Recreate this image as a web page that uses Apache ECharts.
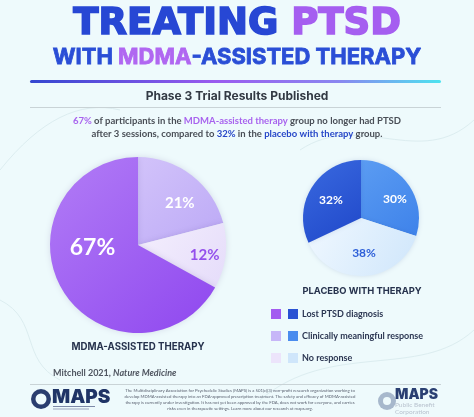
<!DOCTYPE html>
<html><head><meta charset="utf-8">
<script src="https://cdn.jsdelivr.net/npm/echarts@6/dist/echarts.min.js"></script>
<style>html,body{margin:0;padding:0;background:#eefafc;}#c{width:474px;height:417px;}</style>
</head><body><div id="c"></div>
<script>
// ---- data ----
const categories = ['Clinically meaningful response', 'No response', 'Lost PTSD diagnosis'];
const mdmaValues = [21, 12, 67];
const placeboCategories = ['Clinically meaningful response', 'No response', 'Lost PTSD diagnosis'];
const placeboValues = [30, 38, 32];
const legendOrder = ['Lost PTSD diagnosis', 'Clinically meaningful response', 'No response'];
const groupLabels = ['MDMA-ASSISTED THERAPY', 'PLACEBO WITH THERAPY'];

// ---- styles ----
const lg = (a, b) => ({type:'linear', x:0, y:0, x2:1, y2:1, colorStops:[{offset:0,color:a},{offset:1,color:b}]});
const mdmaColors = {
  'Lost PTSD diagnosis': lg('#b27df6', '#8f47ef'),
  'Clinically meaningful response': lg('#d2c3fa', '#bca9f6'),
  'No response': lg('#f4effd', '#e5dcfa')
};
const placeboColors = {
  'Lost PTSD diagnosis': lg('#3a6ae0', '#1f47c9'),
  'Clinically meaningful response': lg('#5b9cf2', '#3e82ea'),
  'No response': lg('#f0f8ff', '#cfe6fb')
};
const mdmaLabel = {
  'Lost PTSD diagnosis': {color:'#fff', fontSize:23, offset:[-5,-21]},
  'Clinically meaningful response': {color:'#fff', fontSize:15, offset:[13,-5]},
  'No response': {color:'#9450ec', fontSize:15, offset:[20,4]}
};
const placeboLabel = {
  'Lost PTSD diagnosis': {color:'#fff', fontSize:12, offset:[-3,-1]},
  'Clinically meaningful response': {color:'#fff', fontSize:12, offset:[8,0]},
  'No response': {color:'#2d5fd8', fontSize:12, offset:[1,3]}
};
const legendLeftColors = ['#a35bf0', '#c7b6f8', '#ece4fb'];
const legendRightColors = ['#2a52d3', '#4a8cee', '#cfe6fb'];

const chart = echarts.init(document.getElementById('c'), null, {renderer:'canvas'});

function buildData(names, vals, colors, labels) {
  return names.map((n, i) => ({
    name: n, value: vals[i],
    itemStyle: {color: colors[n]},
    label: Object.assign({fontFamily:'Lato', fontWeight:'bold'}, labels[n])
  }));
}

const footerText = [
  'The Multidisciplinary Association for Psychedelic Studies (MAPS) is a 501(c)(3) non-profit research organization working to',
  'develop MDMA-assisted therapy into an FDA-approved prescription treatment. The safety and efficacy of MDMA-assisted',
  'therapy is currently under investigation. It has not yet been approved by the FDA, does not work for everyone, and carries',
  'risks even in therapeutic settings. Learn more about our research at maps.org.'
].join('\n');

const T = 'DejaVu Sans';
const heavy = (c, f, s, w) => ({fontFamily:f, fontWeight:'bold', fontSize:s, color:c, textBorderColor:c, textBorderWidth:w});
const option = {
  backgroundColor: '#eefafc',
  animation: false,
  title: [
    {
      text: '{a|TREATING }{b|PTSD}', left: 'center', top: 6, padding: 0,
      textStyle: {rich: {
        a: heavy('#2747d4', T, 37, 1.6),
        b: heavy('#a55ef0', T, 37, 1.6)
      }}
    },
    {
      text: '{a|WITH }{b|MDMA}{a|-ASSISTED THERAPY}', left: 'center', top: 46, padding: 0,
      textStyle: {rich: {
        a: heavy('#2a4ed6', 'Inter', 22, 0.8),
        b: heavy('#b067f1', 'Inter', 22, 0.8)
      }}
    },
    {
      text: 'Phase 3 Trial Results Published', left: 'center', top: 90, padding: 0,
      textStyle: {fontFamily:'Inter', fontWeight:'bold', fontSize:12, color:'#333a44'}
    },
    {
      text: '{p|67%}{t| of participants in the }{p|MDMA-assisted therapy}{t| group no longer had PTSD}\n{t|after 3 sessions, compared to }{q|32%}{t| in the }{q|placebo with therapy}{t| group.}',
      left: 'center', top: 114, padding: 0,
      textStyle: {rich: {
        t: {fontFamily:'Lato', fontSize:9.5, color:'#4a4f57', lineHeight:13},
        p: {fontFamily:'Lato', fontSize:9.5, fontWeight:'bold', color:'#a863ee', lineHeight:13},
        q: {fontFamily:'Lato', fontSize:9.5, fontWeight:'bold', color:'#2747c8', lineHeight:13}
      }}
    },
    {
      text: groupLabels[0], left: 138, top: 342, textAlign: 'center', padding: 0,
      textStyle: {fontFamily:'Inter', fontWeight:'bold', fontSize:9.7, color:'#26324d'}
    },
    {
      text: groupLabels[1], left: 362, top: 287, textAlign: 'center', padding: 0,
      textStyle: {fontFamily:'Inter', fontWeight:'bold', fontSize:9.4, color:'#26324d'}
    },
    {
      text: 'Mitchell 2021, {i|Nature Medicine}', left: 53, top: 369, padding: 0,
      textStyle: {fontFamily:'Lato', fontSize:9, color:'#4f5560', rich:{i:{fontFamily:'Lato', fontStyle:'italic', fontSize:9, color:'#4f5560'}}}
    }
  ],
  legend: [
    {
      orient: 'vertical', left: 271, top: 309, padding: 0, itemWidth: 10, itemHeight: 10, itemGap: 12,
      icon: 'rect', selectedMode: false,
      formatter: () => '',
      data: legendOrder.map((n, i) => ({name: n, itemStyle: {color: legendLeftColors[i]}}))
    },
    {
      orient: 'vertical', left: 288, top: 309, padding: 0, itemWidth: 10, itemHeight: 10, itemGap: 12,
      icon: 'rect', selectedMode: false,
      textStyle: {fontFamily:'Lato', fontWeight:'bold', fontSize:9, color:'#2b3652', padding:[0,0,0,-1]},
      data: legendOrder.map((n, i) => ({name: n, itemStyle: {color: legendRightColors[i]}}))
    }
  ],
  series: [
    {
      type: 'pie', name: 'MDMA', center: [138, 245], radius: 88, startAngle: 90, clockwise: true,
      label: {position: 'inside', formatter: '{c}%'}, labelLine: {show:false},
      itemStyle: {borderWidth: 0, shadowBlur: 6, shadowColor: 'rgba(60,40,120,0.15)'},
      emphasis: {disabled: true},
      data: buildData(categories, mdmaValues, mdmaColors, mdmaLabel)
    },
    {
      type: 'pie', name: 'Placebo', center: [361, 218], radius: 58, startAngle: 90, clockwise: true,
      label: {position: 'inside', formatter: '{c}%'}, labelLine: {show:false},
      itemStyle: {borderWidth: 0, shadowBlur: 5, shadowColor: 'rgba(30,60,140,0.15)'},
      emphasis: {disabled: true},
      data: buildData(placeboCategories, placeboValues, placeboColors, placeboLabel)
    }
  ],
  graphic: [
    // faint background contours
    {type:'bezierCurve', shape:{x1:0, y1:170, x2:120, y2:110, cpx1:40, cpy1:120, cpx2:80, cpy2:100}, style:{stroke:'#dcedf0', lineWidth:1, fill:null}},
    {type:'bezierCurve', shape:{x1:300, y1:150, x2:474, y2:120, cpx1:360, cpy1:110, cpx2:420, cpy2:170}, style:{stroke:'#dcedf0', lineWidth:1, fill:null}},
    {type:'bezierCurve', shape:{x1:0, y1:300, x2:60, y2:380, cpx1:40, cpy1:320, cpx2:20, cpy2:360}, style:{stroke:'#dcedf0', lineWidth:1, fill:null}},
    {type:'bezierCurve', shape:{x1:260, y1:400, x2:474, y2:330, cpx1:330, cpy1:340, cpx2:420, cpy2:380}, style:{stroke:'#dcedf0', lineWidth:1, fill:null}},
    {type:'rect', shape:{x:30, y:80, width:411, height:3, r:1.5}, style:{fill:{type:'linear', x:0, y:0, x2:1, y2:0, colorStops:[{offset:0,color:'#3447d0'},{offset:0.45,color:'#9a5bef'},{offset:0.75,color:'#8a86f0'},{offset:1,color:'#4de3ef'}]}}},
    {type:'rect', shape:{x:30, y:107, width:411, height:1}, style:{fill:'#c9d3d6'}},
    {type:'rect', shape:{x:30, y:384, width:411, height:1}, style:{fill:'#c9d3d6'}},
    // left logo
    {type:'circle', shape:{cx:41, cy:399, r:10}, style:{fill:'#2a3d6e'}},
    {type:'circle', shape:{cx:41, cy:399, r:5.5}, style:{fill:'#eefafc'}},
    {type:'text', x: 52, y: 388, style:{text:'MAPS', fontFamily:'Inter', fontWeight:900, fontSize:19, fill:'#1f3466'}},
    {type:'rect', shape:{x:53, y:406, width:42, height:1}, style:{fill:'#7d89a8'}},
    {type:'rect', shape:{x:53, y:408.5, width:36, height:1}, style:{fill:'#9aa3bb'}},
    // footer paragraph
    {type:'text', x: 240, y: 388, style:{text: footerText, fontFamily:'Lato', fontSize:4.3, lineHeight:5.8, fill:'#5a6170', align:'center'}},
    // right logo
    {type:'circle', shape:{cx:387, cy:401, r:9}, style:{fill:'#a7b8cc'}},
    {type:'circle', shape:{cx:387, cy:401, r:4}, style:{fill:'#eefafc'}},
    {type:'text', x: 395, y: 388, style:{text:'MAPS', fontFamily:'Inter', fontWeight:900, fontSize:14, fill:'#2a3f72'}},
    {type:'text', x: 395, y: 402, style:{text:'Public Benefit\nCorporation', fontFamily:'Lato', fontSize:6.5, lineHeight:6.5, fill:'#b9c3cf'}}
  ]
};
chart.setOption(option);
</script>
</body></html>
